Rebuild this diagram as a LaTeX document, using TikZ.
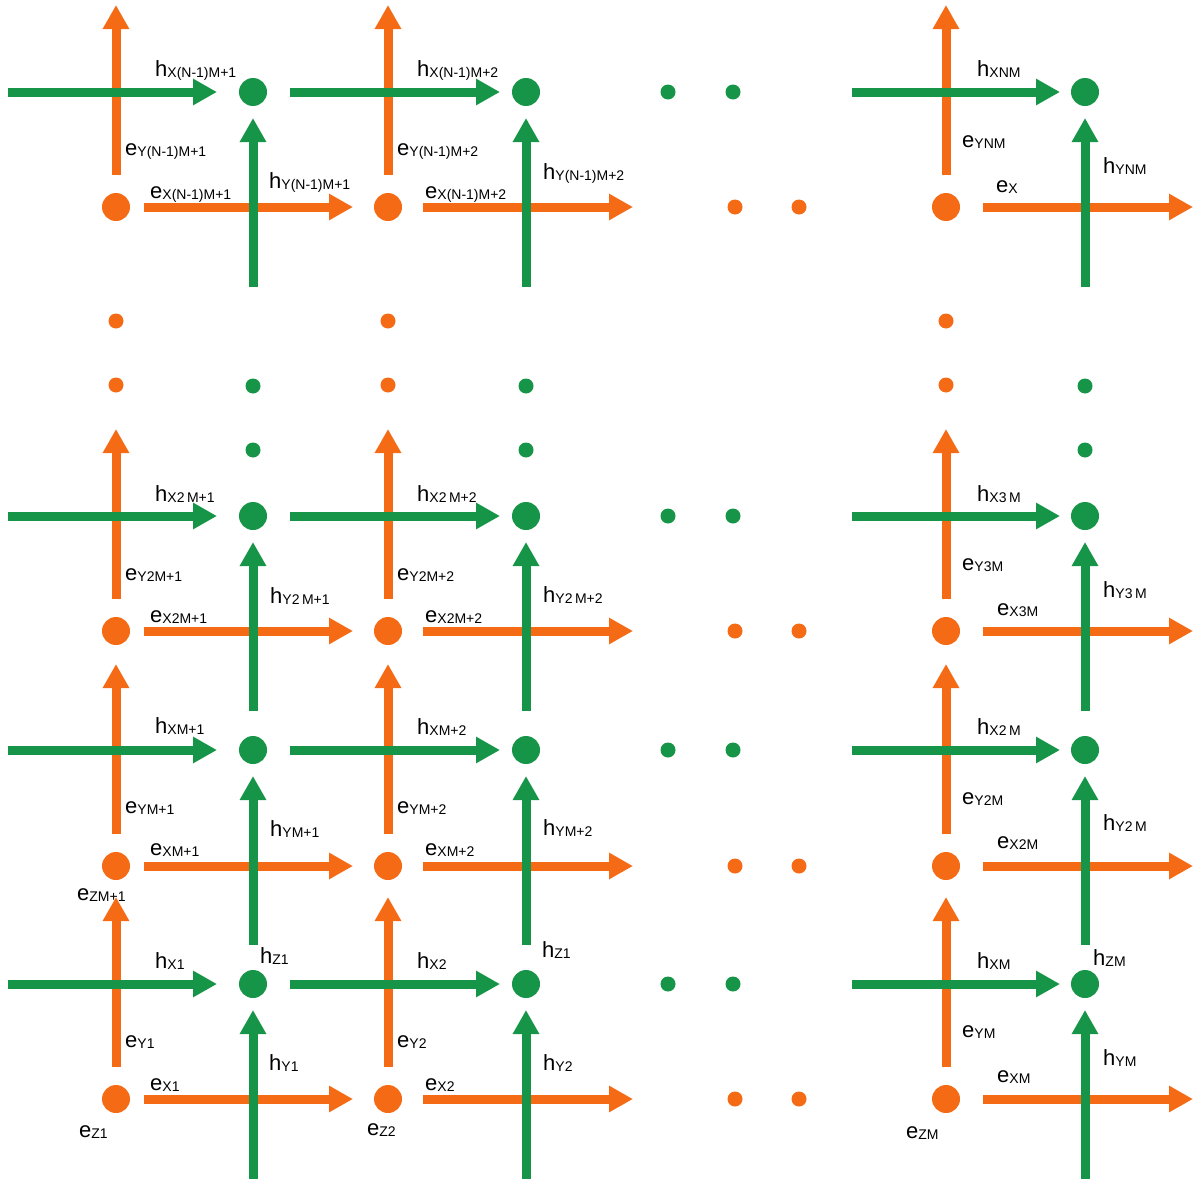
\documentclass[tikz,border=0pt]{standalone}
\usepackage{fontspec}
\setmainfont{Liberation Sans}
\usetikzlibrary{arrows.meta}
\definecolor{eorange}{RGB}{245,106,20}
\definecolor{hgreen}{RGB}{22,148,72}
\newcommand{\lsub}[1]{\raisebox{-1pt}{\fontsize{14}{16}\selectfont #1}}
\newcommand{\gp}{\hspace{2.5pt}}
\tikzset{
  arr/.style={line width=9pt, -{Triangle[length=24pt,width=25pt]}},
  earr/.style={arr, draw=eorange},
  harr/.style={arr, draw=hgreen},
  bigdot/.style={circle, inner sep=0pt, minimum size=28pt},
  edot/.style={bigdot, fill=eorange},
  hdot/.style={bigdot, fill=hgreen},
  sdot/.style={circle, inner sep=0pt, minimum size=15pt},
  esdot/.style={sdot, fill=eorange},
  hsdot/.style={sdot, fill=hgreen},
  lbl/.style={inner sep=0pt, anchor=base west, font=\fontsize{22}{24}\selectfont},
}
\begin{document}
\begin{tikzpicture}[x=1pt,y=-1pt]
\useasboundingbox (0,0) rectangle (1197,1183);
% coordinates and orange arrows
\foreach \c/\gx/\ox/\ghs/\ght/\ohs/\oht in {1/253/116/8/217/144/353, 2/526/388/290/500/423/633, 3/1085/946/852/1060/983/1193}{
  \foreach \r/\gy/\oy in {1/984/1099, 2/750/866, 3/516/631, 4/92/207}{
    \coordinate (ohs\c\r) at (\ohs,\oy);
    \coordinate (ohe\c\r) at (\oht,\oy);
    \coordinate (ovs\c\r) at (\ox,\oy-32);
    \coordinate (ove\c\r) at (\ox,\oy-202);
    \coordinate (ghs\c\r) at (\ghs,\gy);
    \coordinate (ghe\c\r) at (\ght,\gy);
    \coordinate (gvs\c\r) at (\gx,\gy+195);
    \coordinate (gve\c\r) at (\gx,\gy+26);
    \draw[earr] (ohs\c\r) -- (ohe\c\r);
    \draw[earr] (ovs\c\r) -- (ove\c\r);
  }
}
% green arrows
\foreach \c in {1,2,3}{
  \foreach \r in {1,2,3,4}{
    \draw[harr] (ghs\c\r) -- (ghe\c\r);
    \draw[harr] (gvs\c\r) -- (gve\c\r);
  }
}
% dots
\foreach \c/\gx/\ox in {1/253/116, 2/526/388, 3/1085/946}{
  \foreach \r/\gy/\oy in {1/984/1099, 2/750/866, 3/516/631, 4/92/207}{
    \node[edot] (e\c\r) at (\ox,\oy) {};
    \node[hdot] (h\c\r) at (\gx,\gy) {};
  }
  \node[esdot] (ev1\c) at (\ox,321) {};
  \node[esdot] (ev2\c) at (\ox,385) {};
  \node[hsdot] (hv1\c) at (\gx,386) {};
  \node[hsdot] (hv2\c) at (\gx,450) {};
}
\foreach \r/\gy/\oy in {1/984/1099, 2/750/866, 3/516/631, 4/92/207}{
  \node[hsdot] (hh1\r) at (668,\gy) {};
  \node[hsdot] (hh2\r) at (733,\gy) {};
  \node[esdot] (eh1\r) at (735,\oy) {};
  \node[esdot] (eh2\r) at (799,\oy) {};
}
% labels: top row
\node[lbl] (l01) at (155,76) {h\lsub{X(N-1)M+1}};
\node[lbl] (l02) at (125,155) {e\lsub{Y(N-1)M+1}};
\node[lbl] (l03) at (269,188) {h\lsub{Y(N-1)M+1}};
\node[lbl] (l04) at (150,198) {e\lsub{X(N-1)M+1}};
\node[lbl] (l05) at (417,76) {h\lsub{X(N-1)M+2}};
\node[lbl] (l06) at (397,155) {e\lsub{Y(N-1)M+2}};
\node[lbl] (l07) at (543,179) {h\lsub{Y(N-1)M+2}};
\node[lbl] (l08) at (425,198) {e\lsub{X(N-1)M+2}};
\node[lbl] (l09) at (977,76) {h\lsub{XNM}};
\node[lbl] (l10) at (962,147) {e\lsub{YNM}};
\node[lbl] (l11) at (1103,173) {h\lsub{YNM}};
\node[lbl] (l12) at (996,192) {e\lsub{X}};
% row 3
\node[lbl] (l13) at (155,501) {h\lsub{X2\gp M+1}};
\node[lbl] (l14) at (125,580) {e\lsub{Y2M+1}};
\node[lbl] (l15) at (270,603) {h\lsub{Y2\gp M+1}};
\node[lbl] (l16) at (150,622) {e\lsub{X2M+1}};
\node[lbl] (l17) at (417,501) {h\lsub{X2\gp M+2}};
\node[lbl] (l18) at (397,580) {e\lsub{Y2M+2}};
\node[lbl] (l19) at (543,602) {h\lsub{Y2\gp M+2}};
\node[lbl] (l20) at (425,622) {e\lsub{X2M+2}};
\node[lbl] (l21) at (977,501) {h\lsub{X3\gp M}};
\node[lbl] (l22) at (962,570) {e\lsub{Y3M}};
\node[lbl] (l23) at (1103,597) {h\lsub{Y3\gp M}};
\node[lbl] (l24) at (997,615) {e\lsub{X3M}};
% row 2
\node[lbl] (l25) at (155,733) {h\lsub{XM+1}};
\node[lbl] (l26) at (125,813) {e\lsub{YM+1}};
\node[lbl] (l27) at (270,836) {h\lsub{YM+1}};
\node[lbl] (l28) at (150,855) {e\lsub{XM+1}};
\node[lbl] (l29) at (417,734) {h\lsub{XM+2}};
\node[lbl] (l30) at (397,813) {e\lsub{YM+2}};
\node[lbl] (l31) at (543,835) {h\lsub{YM+2}};
\node[lbl] (l32) at (425,855) {e\lsub{XM+2}};
\node[lbl] (l33) at (977,734) {h\lsub{X2\gp M}};
\node[lbl] (l34) at (962,804) {e\lsub{Y2M}};
\node[lbl] (l35) at (1103,830) {h\lsub{Y2\gp M}};
\node[lbl] (l36) at (997,848) {e\lsub{X2M}};
\node[lbl] (l37) at (77,900) {e\lsub{ZM+1}};
% row 1
\node[lbl] (l38) at (155,968) {h\lsub{X1}};
\node[lbl] (l39) at (260,963) {h\lsub{Z1}};
\node[lbl] (l40) at (125,1047) {e\lsub{Y1}};
\node[lbl] (l41) at (269,1070) {h\lsub{Y1}};
\node[lbl] (l42) at (150,1090) {e\lsub{X1}};
\node[lbl] (l43) at (79,1137) {e\lsub{Z1}};
\node[lbl] (l44) at (417,968) {h\lsub{X2}};
\node[lbl] (l45) at (542,957) {h\lsub{Z1}};
\node[lbl] (l46) at (397,1047) {e\lsub{Y2}};
\node[lbl] (l47) at (543,1070) {h\lsub{Y2}};
\node[lbl] (l48) at (425,1090) {e\lsub{X2}};
\node[lbl] (l49) at (367,1135) {e\lsub{Z2}};
\node[lbl] (l50) at (977,968) {h\lsub{XM}};
\node[lbl] (l51) at (1093,965) {h\lsub{ZM}};
\node[lbl] (l52) at (962,1037) {e\lsub{YM}};
\node[lbl] (l53) at (1103,1065) {h\lsub{YM}};
\node[lbl] (l54) at (997,1082) {e\lsub{XM}};
\node[lbl] (l55) at (906,1138) {e\lsub{ZM}};
\end{tikzpicture}
\end{document}
